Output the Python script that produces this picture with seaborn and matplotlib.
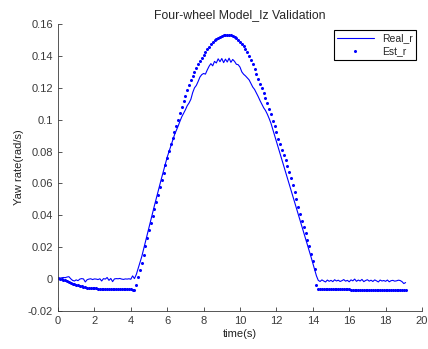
import numpy as np
import pandas as pd
import seaborn as sns
import matplotlib.pyplot as plt
from matplotlib.ticker import FormatStrFormatter

# sample time of both signals (s)
time_s = np.round(np.arange(0, 19.15, 0.1), 1)

# measured yaw rate (rad/s), one row per second
real_r = [
    0.0005, 0.0006, 0.0008, 0.0010, 0.0009, 0.0013, 0.0015, 0.0002, -0.0008, -0.0012,
    -0.0005, -0.0010, 0.0000, 0.0003, 0.0001, -0.0018, -0.0004, 0.0000, 0.0002, -0.0003,
    0.0001, 0.0000, -0.0003, 0.0002, -0.0012, 0.0003, 0.0000, 0.0010, -0.0008, 0.0004,
    -0.0016, 0.0001, 0.0003, 0.0002, 0.0004, 0.0000, -0.0002, 0.0001, 0.0000, 0.0002,
    -0.0001, 0.0020, 0.0003, 0.0028, 0.0065, 0.0100, 0.0140, 0.0185, 0.0232, 0.0278,
    0.0325, 0.0370, 0.0415, 0.0462, 0.0505, 0.0550, 0.0595, 0.0638, 0.0680, 0.0720,
    0.0765, 0.0800, 0.0836, 0.0872, 0.0905, 0.0932, 0.0960, 0.0990, 0.1018, 0.1040,
    0.1062, 0.1088, 0.1105, 0.1128, 0.1170, 0.1200, 0.1215, 0.1240, 0.1268, 0.1283,
    0.1290, 0.1286, 0.1312, 0.1335, 0.1352, 0.1338, 0.1366, 0.1356, 0.1382, 0.1364,
    0.1384, 0.1358, 0.1380, 0.1362, 0.1386, 0.1360, 0.1378, 0.1366, 0.1348, 0.1345,
    0.1330, 0.1300, 0.1285, 0.1275, 0.1262, 0.1250, 0.1228, 0.1205, 0.1190, 0.1168,
    0.1145, 0.1120, 0.1098, 0.1075, 0.1058, 0.1035, 0.1008, 0.0978, 0.0940, 0.0900,
    0.0862, 0.0825, 0.0790, 0.0752, 0.0712, 0.0672, 0.0635, 0.0598, 0.0558, 0.0522,
    0.0482, 0.0446, 0.0408, 0.0370, 0.0332, 0.0292, 0.0255, 0.0218, 0.0178, 0.0140,
    0.0100, 0.0060, 0.0020, -0.0008, -0.0015, -0.0005, -0.0012, -0.0018, -0.0006, -0.0014,
    -0.0008, -0.0016, -0.0004, -0.0012, -0.0007, -0.0015, -0.0010, -0.0003, -0.0013, -0.0008,
    -0.0017, -0.0005, -0.0011, 0.0000, -0.0014, -0.0006, -0.0012, -0.0002, -0.0016, -0.0009,
    -0.0004, -0.0013, -0.0007, -0.0015, -0.0005, -0.0011, -0.0018, -0.0006, -0.0012, -0.0009,
    -0.0014, -0.0006, -0.0017, -0.0010, -0.0008, -0.0013, -0.0011, -0.0007, -0.0009, -0.0016,
    -0.0028, -0.0022,
]

# model estimate (rad/s)
est_r = [
    0.0004, 0.0003, 0.0001, -0.0003, -0.0008, -0.0013, -0.0018, -0.0023, -0.0028, -0.0033,
    -0.0037, -0.0040, -0.0043, -0.0046, -0.0049, -0.0051, -0.0053, -0.0055, -0.0056, -0.0057,
    -0.0058, -0.0059, -0.0060, -0.0061, -0.0061, -0.0062, -0.0062, -0.0063, -0.0063, -0.0063,
    -0.0064, -0.0064, -0.0064, -0.0064, -0.0064, -0.0065, -0.0065, -0.0065, -0.0065, -0.0065,
    -0.0065, -0.0066, -0.0066, -0.0040, 0.0012, 0.0055, 0.0098, 0.0150, 0.0205, 0.0255,
    0.0305, 0.0350, 0.0395, 0.0440, 0.0485, 0.0530, 0.0575, 0.0620, 0.0667, 0.0713,
    0.0760, 0.0804, 0.0845, 0.0885, 0.0923, 0.0962, 0.1000, 0.1040, 0.1080, 0.1115,
    0.1150, 0.1185, 0.1218, 0.1248, 0.1276, 0.1302, 0.1326, 0.1348, 0.1370, 0.1390,
    0.1408, 0.1425, 0.1442, 0.1458, 0.1472, 0.1485, 0.1497, 0.1507, 0.1515, 0.1522,
    0.1527, 0.1531, 0.1533, 0.1534, 0.1533, 0.1531, 0.1527, 0.1521, 0.1512, 0.1502,
    0.1490, 0.1477, 0.1462, 0.1446, 0.1425, 0.1400, 0.1375, 0.1347, 0.1316, 0.1285,
    0.1255, 0.1227, 0.1196, 0.1165, 0.1135, 0.1105, 0.1070, 0.1033, 0.0995, 0.0958,
    0.0920, 0.0882, 0.0845, 0.0808, 0.0776, 0.0745, 0.0712, 0.0675, 0.0636, 0.0592,
    0.0545, 0.0500, 0.0455, 0.0410, 0.0366, 0.0327, 0.0288, 0.0248, 0.0205, 0.0160,
    0.0113, 0.0065, -0.0040, -0.0060, -0.0061, -0.0061, -0.0062, -0.0062, -0.0062, -0.0063,
    -0.0063, -0.0063, -0.0063, -0.0064, -0.0064, -0.0064, -0.0064, -0.0065, -0.0065, -0.0065,
    -0.0065, -0.0066, -0.0066, -0.0066, -0.0066, -0.0066, -0.0067, -0.0067, -0.0067, -0.0067,
    -0.0067, -0.0067, -0.0068, -0.0068, -0.0068, -0.0068, -0.0068, -0.0068, -0.0068, -0.0069,
    -0.0069, -0.0069, -0.0069, -0.0069, -0.0069, -0.0069, -0.0069, -0.0070, -0.0070, -0.0070,
    -0.0070, -0.0070,
]

x_ticks = [0, 2, 4, 6, 8, 10, 12, 14, 16, 18, 20]
y_ticks = [-0.02, 0, 0.02, 0.04, 0.06, 0.08, 0.1, 0.12, 0.14, 0.16]

df = pd.DataFrame({"time": time_s, "Real_r": real_r, "Est_r": est_r})

sns.set_style("ticks")
plt.rcParams['font.family'] = ['Liberation Sans', 'DejaVu Sans']
plt.rcParams['xtick.direction'] = 'in'
plt.rcParams['ytick.direction'] = 'in'

axis_gray = '#3a3a3a'
fig = plt.figure(figsize=(4.28, 3.49), dpi=100)
ax = fig.add_axes([0.1355, 0.109, 0.8505, 0.822])

sns.lineplot(data=df, x="time", y="Real_r", ax=ax, color=(0, 0, 1),
             linewidth=0.8, label="Real_r")
ax.plot(df["time"], df["Est_r"], linestyle='', marker='.', markersize=2.4,
        color=(0, 0, 1), label="Est_r")

ax.set_xlim(0, 20)
ax.set_ylim(-0.02, 0.16)
ax.set_xticks(x_ticks)
ax.set_yticks(y_ticks)
ax.yaxis.set_major_formatter(FormatStrFormatter('%g'))
ax.tick_params(labelsize=8, colors=axis_gray, length=3, width=0.6)
for side in ['left', 'bottom']:
    ax.spines[side].set_color(axis_gray)
    ax.spines[side].set_linewidth(0.6)
sns.despine(ax=ax)

ax.set_xlabel("time(s)", fontsize=8, color='#222222', labelpad=2)
ax.set_ylabel("Yaw rate(rad/s)", fontsize=8, color='#222222', labelpad=3)
ax.set_title("Four-wheel Model_Iz Validation", fontsize=8.8, pad=4)

leg = ax.legend(loc='upper right', fontsize=7.5, fancybox=False, framealpha=1,
                edgecolor='black', borderaxespad=0.6, handlelength=3.5,
                borderpad=0.3, labelspacing=0.3)
leg.get_frame().set_linewidth(0.8)

fig.savefig("out.png", dpi=100)
